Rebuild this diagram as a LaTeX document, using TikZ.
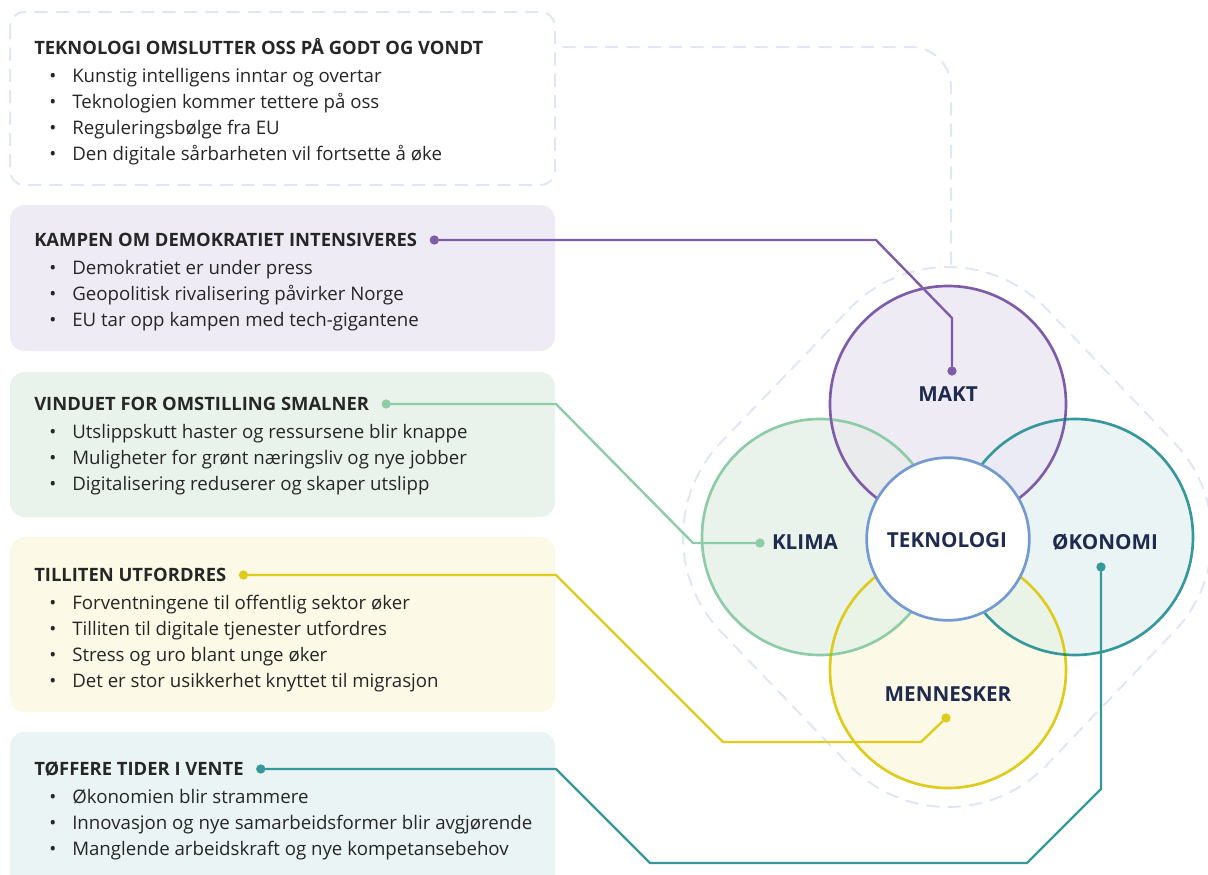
\documentclass[tikz,border=0pt]{standalone}
\usepackage{fontspec}
\setmainfont{Open Sans}
\usetikzlibrary{calc,positioning}

\definecolor{maktC}{HTML}{7E5CA8}
\definecolor{klimaC}{HTML}{8DCCA6}
\definecolor{menC}{HTML}{DFCB1B}
\definecolor{okoC}{HTML}{36989B}
\definecolor{tekC}{HTML}{7399D3}
\definecolor{hullC}{HTML}{E0E6F5}
\definecolor{navy}{HTML}{1E2B4E}
\definecolor{ink}{HTML}{262626}
\definecolor{maktBg}{HTML}{EEEBF5}
\definecolor{klimaBg}{HTML}{E9F3EC}
\definecolor{menBg}{HTML}{FCF9E6}
\definecolor{okoBg}{HTML}{EAF4F5}

\newcommand\bul{\makebox[17.25pt][l]{\textbullet}}

\tikzset{
  hull/.style={draw=hullC, line width=1.5pt, dash pattern=on 9pt off 7pt},
  themebox/.style={rounded corners=11pt},
  ttl/.style={anchor=west, inner sep=0pt, text height=9.85pt, text depth=0pt,
    font=\fontsize{13.8}{17}\selectfont\bfseries, text=ink},
  itm/.style={anchor=base west, inner sep=0pt, text=ink},
  venn/.style={circle, minimum size=177pt, inner sep=0pt, line width=2pt},
  lbl/.style={inner sep=0pt, text=navy, font=\fontsize{15.5}{18}\selectfont\bfseries},
  dot/.style={circle, fill=#1, inner sep=0pt, minimum size=7pt},
  conn/.style={draw=#1, line width=1.8pt}
}

\begin{document}
\begin{tikzpicture}[x=0.75pt, y=-0.75pt, line join=round, line cap=round,
  font=\fontsize{14}{17}\selectfont]
\useasboundingbox (0,0) rectangle (1208,875);
\clip (0,0) rectangle (1208,875);

% boxes on the left
\draw[hull, themebox] (10,12) rectangle (555,185);
\fill[maktBg, themebox] (10,205) rectangle (555,351);
\fill[klimaBg, themebox] (10,372) rectangle (555,517);
\fill[menBg, themebox] (10,537) rectangle (555,712);
\fill[okoBg, themebox] (10,732) rectangle (555,895);

% titles
\node[ttl] (tekTitle) at (34,48) {TEKNOLOGI OMSLUTTER OSS PÅ GODT OG VONDT};
\node[ttl] (kampTitle) at (34,240) {KAMPEN OM DEMOKRATIET INTENSIVERES};
\node[ttl] (vindTitle) at (34,404) {VINDUET FOR OMSTILLING SMALNER};
\node[ttl] (tillTitle) at (34,575) {TILLITEN UTFORDRES};
\node[ttl] (toffTitle) at (34,769) {TØFFERE TIDER I VENTE};

% bullet lines
\foreach \t [count=\i] in {Kunstig intelligens inntar og overtar,
    Teknologien kommer tettere på oss, Reguleringsbølge fra EU,
    Den digitale sårbarheten vil fortsette å øke}
  \node[itm] (tek-\i) at (49,56+26*\i) {\bul\t};
\foreach \t [count=\i] in {Demokratiet er under press,
    Geopolitisk rivalisering påvirker Norge, EU tar opp kampen med tech-gigantene}
  \node[itm] (kamp-\i) at (49,248+26*\i) {\bul\t};
\foreach \t [count=\i] in {Utslippskutt haster og ressursene blir knappe,
    Muligheter for grønt næringsliv og nye jobber,
    Digitalisering reduserer og skaper utslipp}
  \node[itm] (vind-\i) at (49,412+26*\i) {\bul\t};
\foreach \t [count=\i] in {Forventningene til offentlig sektor øker,
    Tilliten til digitale tjenester utfordres, Stress og uro blant unge øker,
    Det er stor usikkerhet knyttet til migrasjon}
  \node[itm] (till-\i) at (49,583+26*\i) {\bul\t};
\foreach \t [count=\i] in {Økonomien blir strammere,
    Innovasjon og nye samarbeidsformer blir avgjørende,
    Manglende arbeidskraft og nye kompetansebehov}
  \node[itm] (toff-\i) at (49,777+26*\i) {\bul\t};

% circles
\coordinate (tekLink) at (563,47);
\coordinate (hullTop) at (951,266);
\draw[hull, rounded corners=30pt] (tekLink) -| (hullTop);
\begin{scope}[blend group=darken]
  \node[venn, draw=maktC, fill=maktBg] (makt) at (948,404) {};
  \node[venn, draw=klimaC, fill=klimaBg] (klima) at (820,537) {};
  \node[venn, draw=okoC, fill=okoBg] (oko) at (1075,537) {};
  \node[venn, draw=menC, fill=menBg] (men) at (948,670) {};
\end{scope}
\draw[hull]
  ($(makt)+(-136.1:137)$) arc[start angle=-136.1, end angle=-43.7, radius=137]
  -- ($(oko)+(-43.7:137)$) arc[start angle=-43.7, end angle=43.7, radius=137]
  -- ($(men)+(43.7:137)$) arc[start angle=43.7, end angle=136.1, radius=137]
  -- ($(klima)+(136.1:137)$) arc[start angle=136.1, end angle=223.9, radius=137]
  -- cycle;
\node[venn, minimum size=122pt, draw=tekC, fill=white] (tek) at (948,539) {};

\node[lbl] (maktLbl) at (948,394) {MAKT};
\node[lbl] (klimaLbl) at (805,542) {KLIMA};
\node[lbl] (okoLbl) at (1105,542) {ØKONOMI};
\node[lbl] (menLbl) at (948,694) {MENNESKER};
\node[lbl] (tekLbl) at (947,540) {TEKNOLOGI};

% connectors
\node[dot=maktC, right=9pt of kampTitle] (kampDot) {};
\node[dot=klimaC, right=9pt of vindTitle] (vindDot) {};
\node[dot=menC, right=9pt of tillTitle] (tillDot) {};
\node[dot=okoC, right=9pt of toffTitle] (toffDot) {};
\node[dot=maktC] (maktDot) at (952,371) {};
\node[dot=klimaC] (klimaDot) at (760,543) {};
\node[dot=menC] (menDot) at (946,718) {};
\node[dot=okoC] (okoDot) at (1101,567) {};

\draw[conn=maktC] (kampDot) -- (876,240) -- (952,318) -- (maktDot);
\draw[conn=klimaC] (vindDot) -- (556,404) -- (693,543) -- (klimaDot);
\draw[conn=menC] (tillDot) -- (556,575) -- (723,742) -- (921,742) -- (menDot);
\draw[conn=okoC] (toffDot) -- (556,769) -- (650,863) -- (1027,863) -- (1101,789) -- (okoDot);
\end{tikzpicture}
\end{document}
